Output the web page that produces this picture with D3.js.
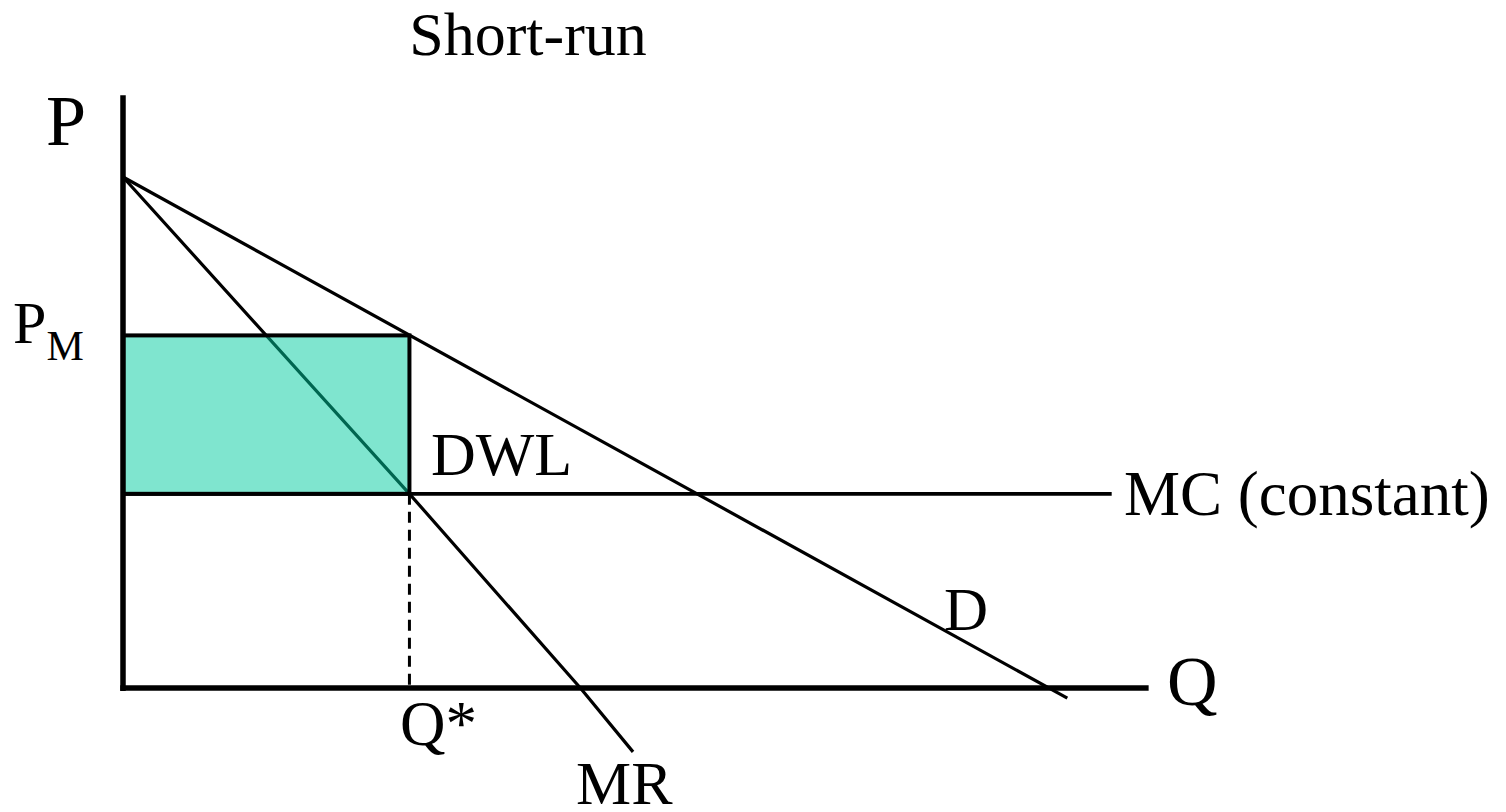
<!DOCTYPE html>
<html><head><meta charset="utf-8">
<script src="https://cdn.jsdelivr.net/npm/d3@7"></script>
<style>html,body{margin:0;padding:0;background:#fff;}svg{display:block;}</style>
</head><body>
<svg id="c" width="1506" height="812"></svg>
<script>
// Data (quantity Q, price P)
const demandQ = [0, 10.22];
const demandP = [10, -0.2];
const mrQ = [0, 3.1, 4.95, 5.52];
const mrP = [10, 3.8, 0, -1.25];
const mcValue = 3.8;
const mcRangeQ = [0, 10.7];
const qStar = 3.1;
const pM = 6.9;
const axisMaxQ = 11.1;
const axisMaxP = 11.6;
const labels = {title: "Short-run", p: "P", q: "Q", pm: "P", pmSub: "M", qStar: "Q*", mr: "MR", d: "D", mc: "MC (constant)", dwl: "DWL"};

const FONT = "'Liberation Serif', 'Times New Roman', Times, serif";
const svg = d3.select("#c");
const x = d3.scaleLinear().domain([0, 10]).range([123, 1047]);
const y = d3.scaleLinear().domain([0, 10]).range([688, 177]);
const line = d3.line().x(d => x(d[0])).y(d => y(d[1]));

// Demand
svg.append("path").attr("d", line(d3.zip(demandQ, demandP)))
  .attr("stroke", "#000").attr("stroke-width", 3.2).attr("fill", "none");
// MR
svg.append("path").attr("d", line(d3.zip(mrQ, mrP)))
  .attr("stroke", "#000").attr("stroke-width", 3.2).attr("fill", "none")
  .attr("stroke-linejoin", "round");
// MC
svg.append("line").attr("x1", x(mcRangeQ[0])).attr("x2", x(mcRangeQ[1]))
  .attr("y1", y(mcValue)).attr("y2", y(mcValue))
  .attr("stroke", "#000").attr("stroke-width", 3.8);
// Dashed Q*
svg.append("line").attr("x1", x(qStar)).attr("x2", x(qStar))
  .attr("y1", y(mcValue)).attr("y2", y(0))
  .attr("stroke", "#000").attr("stroke-width", 3).attr("stroke-dasharray", "11,7");
// Shaded rectangle
svg.append("rect").attr("x", x(0)).attr("y", y(pM))
  .attr("width", x(qStar) - x(0)).attr("height", y(mcValue) - y(pM))
  .attr("fill", "rgb(0,204,160)").attr("fill-opacity", 0.5)
  .attr("stroke", "#000").attr("stroke-width", 4);
// Axes
svg.append("line").attr("x1", x(0)).attr("x2", x(0)).attr("y1", y(axisMaxP)).attr("y2", y(0) + 3)
  .attr("stroke", "#000").attr("stroke-width", 5.5);
svg.append("line").attr("x1", x(0) - 2.75).attr("x2", x(axisMaxQ)).attr("y1", y(0)).attr("y2", y(0))
  .attr("stroke", "#000").attr("stroke-width", 5.5);

// Labels
function t(txt, px, py, size, anchor) {
  return svg.append("text").attr("x", px).attr("y", py).attr("font-size", size)
    .attr("font-family", FONT).attr("fill", "#000")
    .attr("text-anchor", anchor || "start").text(txt);
}
t(labels.title, 528, 55, 62, "middle");
t(labels.p, 46, 145, 72);
const pmT = svg.append("text").attr("x", 13).attr("y", 343).attr("font-size", 60).attr("font-family", FONT);
pmT.append("tspan").text(labels.pm);
pmT.append("tspan").attr("font-size", 42).attr("dy", 17).text(labels.pmSub);
t(labels.dwl, 431, 475, 62);
t(labels.mc, 1124, 515, 63);
t(labels.qStar, 400, 745, 63);
t(labels.mr, 576, 804, 62);
t(labels.d, 944, 630, 61);
t(labels.q, 1167, 705, 70);
</script>
</body></html>
